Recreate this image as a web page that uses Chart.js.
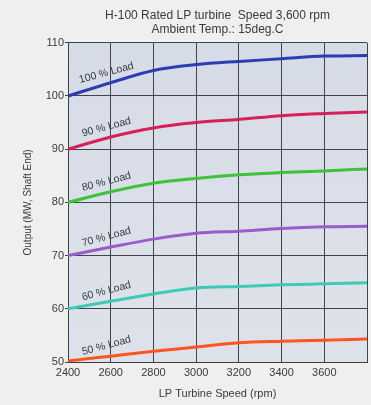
<!DOCTYPE html>
<html>
<head>
<meta charset="utf-8">
<script src="https://cdn.jsdelivr.net/npm/chart.js@4.4.1/dist/chart.umd.min.js"></script>
<style>
  html, body { margin: 0; padding: 0; background: #efefed; }
  #wrap { width: 371px; height: 405px; }
</style>
</head>
<body>
<div id="wrap"><canvas id="c" width="371" height="405"></canvas></div>
<script>
// LP turbine speed (rpm)
const speeds = [2400, 2600, 2800, 3000, 3200, 3400, 3600, 3800];

// output (MW, shaft end) per load
const load100 = [100.0, 102.5, 104.8, 105.9, 106.5, 107.0, 107.5, 107.6];
const load90  = [90.0, 92.3, 94.0, 95.0, 95.6, 96.3, 96.7, 97.0];
const load80  = [80.0, 82.0, 83.6, 84.5, 85.2, 85.6, 85.9, 86.3];
const load70  = [70.0, 71.6, 73.1, 74.2, 74.6, 75.1, 75.4, 75.5];
const load60  = [60.0, 61.4, 62.8, 63.9, 64.2, 64.5, 64.7, 64.9];
const load50  = [50.2, 51.1, 52.0, 52.8, 53.6, 53.9, 54.1, 54.3];

const loadLabels = ['100 % Load', '90 % Load', '80 % Load', '70 % Load', '60 % Load', '50 % Load'];
const xTicks = [2400, 2600, 2800, 3000, 3200, 3400, 3600];
const yTicks = [50, 60, 70, 80, 90, 100, 110];

const FONT = '"Liberation Sans Narrow", "Liberation Sans", Arial, sans-serif';

const series = [load100, load90, load80, load70, load60, load50];
const colors = ['#2b3db4', '#d81f58', '#3dc23a', '#9a5ccc', '#3fcab8', '#ff5520'];

// plot area shading
const plotBg = {
    id: 'plotBg',
    beforeDraw(chart) {
        const { ctx, chartArea: a } = chart;
        const g = ctx.createLinearGradient(0, a.top, 0, a.bottom);
        g.addColorStop(0, '#d6dce7');
        g.addColorStop(1, '#dde2ea');
        ctx.save();
        ctx.fillStyle = g;
        ctx.fillRect(a.left, a.top, a.right - a.left, a.bottom - a.top);
        ctx.restore();
    }
};

// slanted "xx % Load" labels above each curve
const curveLabels = {
    id: 'curveLabels',
    afterDatasetsDraw(chart) {
        const { ctx, scales } = chart;
        ctx.save();
        ctx.font = '10.5px ' + FONT;
        ctx.fillStyle = '#353a44';
        ctx.textAlign = 'center';
        ctx.textBaseline = 'middle';
        series.forEach((s, i) => {
            const xv = 2580;
            const yv = s[0] + (s[1] - s[0]) * (xv - speeds[0]) / (speeds[1] - speeds[0]);
            const px = scales.x.getPixelForValue(xv);
            const py = scales.y.getPixelForValue(yv) - 11;
            ctx.save();
            ctx.translate(px, py);
            ctx.rotate(-15 * Math.PI / 180);
            ctx.fillText(loadLabels[i], 0, 0);
            ctx.restore();
        });
        ctx.restore();
    }
};

new Chart(document.getElementById('c'), {
    type: 'line',
    plugins: [plotBg, curveLabels],
    data: {
        labels: speeds,
        datasets: series.map((s, i) => ({
            label: loadLabels[i],
            data: s.map((v, j) => ({ x: speeds[j], y: v })),
            borderColor: colors[i],
            borderWidth: 3,
            pointRadius: 0,
            fill: false,
            cubicInterpolationMode: 'monotone'
        }))
    },
    options: {
        responsive: false,
        animation: false,
        layout: { padding: { top: 4, right: 4, left: 18, bottom: 0 } },
        plugins: {
            legend: { display: false },
            tooltip: { enabled: false },
            title: {
                display: true,
                fullSize: false,
                text: ['H-100 Rated LP turbine  Speed 3,600 rpm', 'Ambient Temp.: 15deg.C'],
                color: '#3a3a3a',
                font: { family: FONT, size: 12, weight: 'normal', lineHeight: 1.2 },
                padding: { top: 4, bottom: 6 },
                align: 'center'
            }
        },
        scales: {
            x: {
                type: 'linear',
                min: 2400,
                max: 3800,
                afterBuildTicks(axis) { axis.ticks = speeds.map(v => ({ value: v })); },
                afterFit(axis) { axis.height = 43; },
                grid: { color: '#40444b', lineWidth: 1, drawTicks: false },
                border: { display: true, color: '#3a3e45', width: 1 },
                ticks: {
                    color: '#3a3a3a',
                    padding: 4,
                    maxRotation: 0,
                    font: { family: FONT, size: 11 },
                    callback: v => xTicks.includes(v) ? String(v) : ''
                },
                title: {
                    display: true,
                    text: 'LP Turbine Speed (rpm)',
                    color: '#3a3a3a',
                    font: { family: FONT, size: 11 },
                    padding: { top: 2 }
                }
            },
            y: {
                min: 50,
                max: 110,
                afterBuildTicks(axis) { axis.ticks = yTicks.map(v => ({ value: v })); },
                afterFit(axis) { axis.width = 50; },
                grid: { color: '#40444b', lineWidth: 1, drawTicks: true, tickLength: 3 },
                border: { display: true, color: '#3a3e45', width: 1 },
                ticks: {
                    color: '#3a3a3a',
                    padding: 1,
                    font: { family: FONT, size: 11 }
                },
                title: {
                    display: true,
                    text: 'Output (MW, Shaft End)',
                    color: '#3a3a3a',
                    font: { family: FONT, size: 10 },
                    padding: { bottom: 6 }
                }
            }
        }
    }
});
</script>
</body>
</html>
